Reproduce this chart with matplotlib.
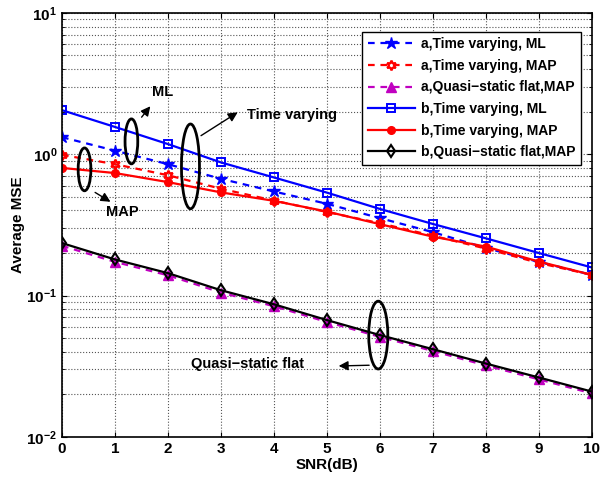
import numpy as np
import matplotlib
matplotlib.use('Agg')
import matplotlib.pyplot as plt
from matplotlib.patches import Ellipse

plt.rcParams['font.family'] = ['Liberation Sans', 'DejaVu Sans']
plt.rcParams['font.weight'] = 'bold'

snr = [0, 1, 2, 3, 4, 5, 6, 7, 8, 9, 10]

# case a (dashed)
a_tv_ml = [1.32, 1.06, 0.85, 0.67, 0.545, 0.446, 0.353, 0.281, 0.217, 0.173, 0.140]
a_tv_map = [0.99, 0.85, 0.71, 0.57, 0.47, 0.39, 0.325, 0.265, 0.215, 0.170, 0.140]
a_qs_map = [0.225, 0.173, 0.139, 0.105, 0.084, 0.065, 0.051, 0.0405, 0.032, 0.0255, 0.0203]
# case b (solid)
b_tv_ml = [2.05, 1.56, 1.18, 0.875, 0.685, 0.535, 0.41, 0.321, 0.254, 0.200, 0.158]
b_tv_map = [0.80, 0.736, 0.635, 0.537, 0.468, 0.393, 0.320, 0.261, 0.222, 0.174, 0.140]
b_qs_map = [0.235, 0.180, 0.144, 0.109, 0.0867, 0.067, 0.0525, 0.0417, 0.033, 0.0263, 0.0209]

labels = ['a,Time varying, ML', 'a,Time varying, MAP', 'a,Quasi\u2212static flat,MAP',
          'b,Time varying, ML', 'b,Time varying, MAP', 'b,Quasi\u2212static flat,MAP']

fig = plt.figure(figsize=(6.02, 4.8), dpi=100)
ax = fig.add_axes([0.103, 0.090, 0.880, 0.883])

lw = 1.6
dash = (3.0, 2.6)
ax.semilogy(snr, a_tv_ml, '--', dashes=dash, color='blue', marker='*', ms=9, lw=lw, label=labels[0])
ax.semilogy(snr, a_tv_map, '--', dashes=dash, color='red', marker=(6, 1, 0), ms=7, lw=lw,
            mfc='none', mew=1.6, label=labels[1])
ax.semilogy(snr, a_qs_map, '--', dashes=dash, color='#c000c0', marker='^', ms=7, lw=lw, label=labels[2])
ax.semilogy(snr, b_tv_ml, '-', color='blue', marker='s', ms=5.5, mfc='none', mew=1.4, lw=lw, label=labels[3])
ax.semilogy(snr, b_tv_map, '-', color='red', marker='o', ms=5.5, lw=lw, label=labels[4])
ax.semilogy(snr, b_qs_map, '-', color='black', marker='d', ms=6.5, mfc='none', mew=1.5, lw=lw, label=labels[5])

ax.set_xlim(0, 10)
ax.set_ylim(1e-2, 1e1)
ax.set_xticks(snr)
ax.grid(True, which='major', linestyle=':', color='#555555', lw=0.8)
ax.grid(True, which='minor', axis='y', linestyle=':', color='#555555', lw=0.8)
ax.tick_params(which='both', direction='in', top=True, right=True, labelsize=11)
for lab in ax.get_xticklabels() + ax.get_yticklabels():
    lab.set_fontweight('bold')
for s in ax.spines.values():
    s.set_linewidth(1.2)

ax.set_xlabel('SNR(dB)', fontsize=11, fontweight='bold', labelpad=2)
ax.set_ylabel('Average MSE', fontsize=11, fontweight='bold', labelpad=1)

leg = ax.legend(loc='upper right', bbox_to_anchor=(0.979, 0.956), fontsize=10,
                fancybox=False, edgecolor='black', framealpha=1, borderpad=0.4,
                labelspacing=0.55, handlelength=3.4, handletextpad=0.4, borderaxespad=0)
leg.get_frame().set_linewidth(1.0)

# annotations: ellipses + arrows in axes fraction
ells = [(0.131, 0.697, 0.024, 0.106),
        (0.0425, 0.631, 0.024, 0.101),
        (0.2425, 0.638, 0.034, 0.200),
        (0.597, 0.240, 0.036, 0.160)]
for cx, cy, w, h in ells:
    ax.add_patch(Ellipse((cx, cy), w, h, transform=ax.transAxes, fill=False,
                         edgecolor='black', lw=2.0, zorder=5))

arrows = [('ML', (0.147, 0.749), (0.170, 0.785), (0.19, 0.813), 'center'),
          ('MAP', (0.058, 0.580), (0.096, 0.551), (0.113, 0.530), 'center'),
          ('Time varying', (0.258, 0.707), (0.336, 0.769), (0.350, 0.759), 'left'),
          ('Quasi\u2212static flat', (0.585, 0.169), (0.517, 0.167), (0.35, 0.171), 'center')]
for txt, start, end, tpos, ha in arrows:
    ax.annotate('', xy=end, xytext=start, xycoords='axes fraction',
                arrowprops=dict(arrowstyle='-|>', color='black', lw=1.0, mutation_scale=14), zorder=6)
    ax.text(tpos[0], tpos[1], txt, transform=ax.transAxes, ha=ha, va='center',
            fontsize=10.5, fontweight='bold', zorder=6)

fig.savefig('out.png', dpi=100)
